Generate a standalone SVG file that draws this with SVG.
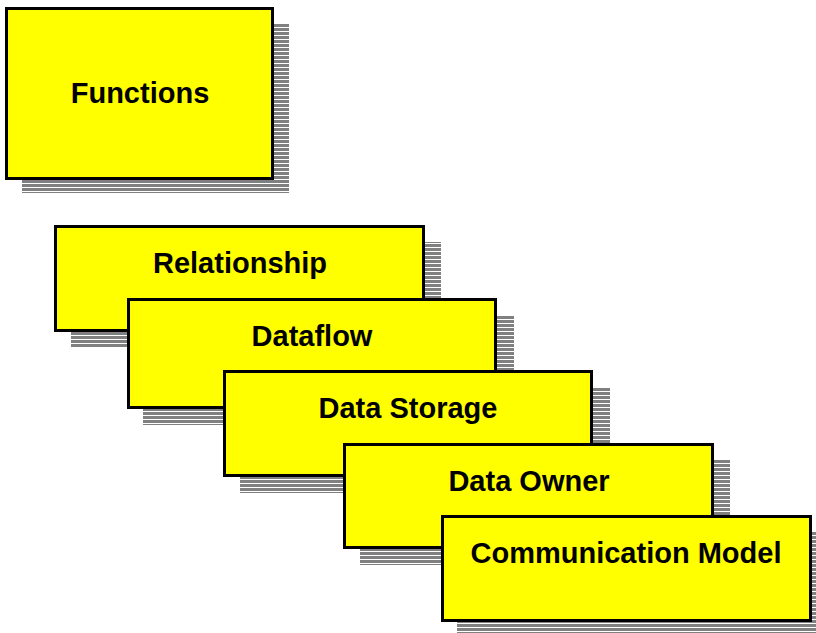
<svg xmlns="http://www.w3.org/2000/svg" width="816" height="633" viewBox="0 0 816 633">
  <defs>
    <!-- horizontal hatch used for drop shadows -->
    <pattern id="hatch" patternUnits="userSpaceOnUse" width="4" height="4">
      <rect x="0" y="0" width="4" height="3" fill="#808080"/>
    </pattern>
    <style>
      .shadow { fill: url(#hatch); stroke: none; }
      .box { fill: #ffff00; stroke: #000000; stroke-width: 3; }
      .label { font-family: "Liberation Sans", Arial, sans-serif; font-weight: bold; font-size: 29px; fill: #000000; text-anchor: middle; }
    </style>
  </defs>
  <rect x="0" y="0" width="816" height="633" fill="#ffffff"/>

  <g id="functions">
    <rect class="shadow" x="22" y="24" width="267" height="169"/>
    <rect class="box" x="6.5" y="8.5" width="266" height="170"/>
    <text class="label" x="140" y="103">Functions</text>
  </g>

  <g id="relationship">
    <rect class="shadow" x="71" y="242" width="370" height="106"/>
    <rect class="box" x="55.5" y="226.5" width="368" height="104"/>
    <text class="label" x="240" y="273">Relationship</text>
  </g>

  <g id="dataflow">
    <rect class="shadow" x="143" y="315" width="371" height="110"/>
    <rect class="box" x="128.5" y="299.5" width="367" height="108"/>
    <text class="label" x="312" y="346">Dataflow</text>
  </g>

  <g id="data-storage">
    <rect class="shadow" x="240" y="387" width="370" height="106"/>
    <rect class="box" x="224.5" y="371.5" width="367" height="104"/>
    <text class="label" x="408" y="418">Data Storage</text>
  </g>

  <g id="data-owner">
    <rect class="shadow" x="360" y="460" width="370" height="105"/>
    <rect class="box" x="344.5" y="444.5" width="368" height="103"/>
    <text class="label" x="529" y="491">Data Owner</text>
  </g>

  <g id="communication-model">
    <rect class="shadow" x="457" y="531" width="371" height="102"/>
    <rect class="box" x="442.5" y="516.5" width="368" height="104"/>
    <text class="label" x="626" y="563">Communication Model</text>
  </g>

  <g id="connectors"/>
</svg>
